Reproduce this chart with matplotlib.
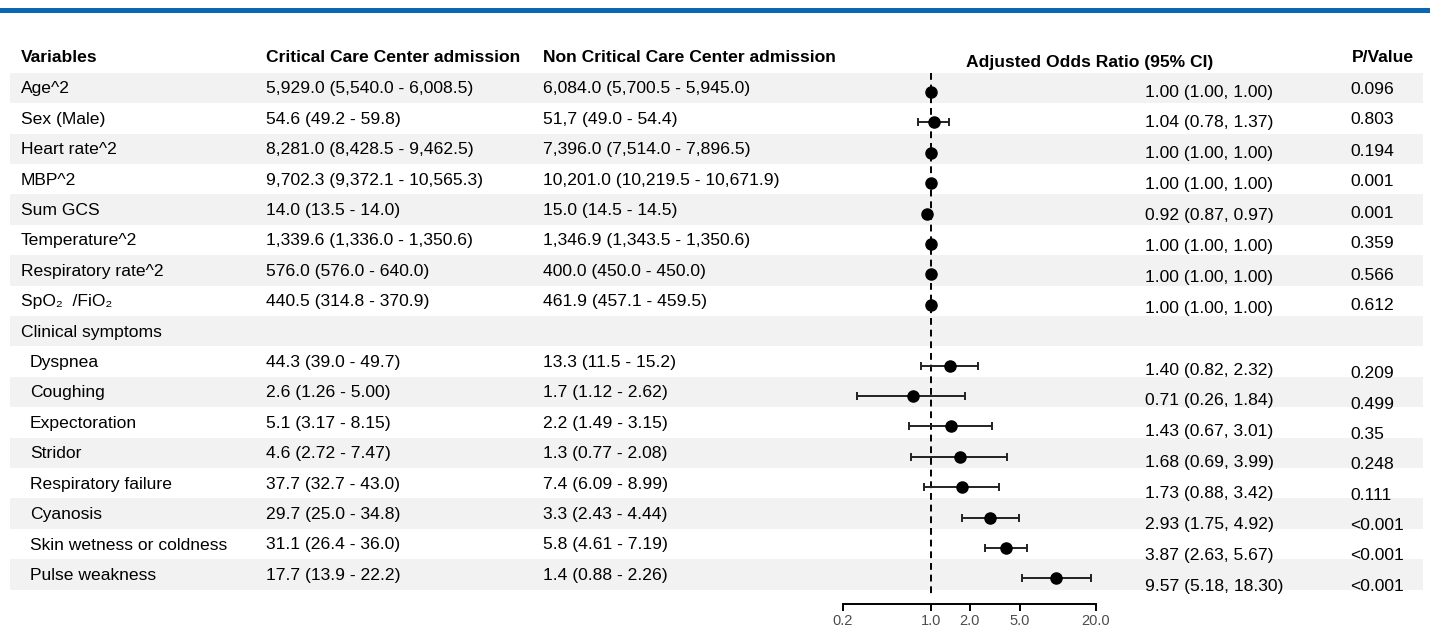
import numpy as np
import matplotlib.pyplot as plt

plt.rcParams['font.family'] = ['Liberation Sans', 'DejaVu Sans']

variables = ["Age^2", "Sex (Male)", "Heart rate^2", "MBP^2", "Sum GCS", "Temperature^2",
             "Respiratory rate^2", "SpO\u2082  /FiO\u2082", "Clinical symptoms", "Dyspnea",
             "Coughing", "Expectoration", "Stridor", "Respiratory failure", "Cyanosis",
             "Skin wetness or coldness", "Pulse weakness"]
is_sub = [False] * 9 + [True] * 8

critical = ["5,929.0 (5,540.0 - 6,008.5)", "54.6 (49.2 - 59.8)", "8,281.0 (8,428.5 - 9,462.5)",
            "9,702.3 (9,372.1 - 10,565.3)", "14.0 (13.5 - 14.0)", "1,339.6 (1,336.0 - 1,350.6)",
            "576.0 (576.0 - 640.0)", "440.5 (314.8 - 370.9)", "",
            "44.3 (39.0 - 49.7)", "2.6 (1.26 - 5.00)", "5.1 (3.17 - 8.15)", "4.6 (2.72 - 7.47)",
            "37.7 (32.7 - 43.0)", "29.7 (25.0 - 34.8)", "31.1 (26.4 - 36.0)", "17.7 (13.9 - 22.2)"]

non_critical = ["6,084.0 (5,700.5 - 5,945.0)", "51,7 (49.0 - 54.4)", "7,396.0 (7,514.0 - 7,896.5)",
                "10,201.0 (10,219.5 - 10,671.9)", "15.0 (14.5 - 14.5)", "1,346.9 (1,343.5 - 1,350.6)",
                "400.0 (450.0 - 450.0)", "461.9 (457.1 - 459.5)", "",
                "13.3 (11.5 - 15.2)", "1.7 (1.12 - 2.62)", "2.2 (1.49 - 3.15)", "1.3 (0.77 - 2.08)",
                "7.4 (6.09 - 8.99)", "3.3 (2.43 - 4.44)", "5.8 (4.61 - 7.19)", "1.4 (0.88 - 2.26)"]

aor = [1.00, 1.04, 1.00, 1.00, 0.92, 1.00, 1.00, 1.00, np.nan,
       1.40, 0.71, 1.43, 1.68, 1.73, 2.93, 3.87, 9.57]
ci_low = [1.00, 0.78, 1.00, 1.00, 0.87, 1.00, 1.00, 1.00, np.nan,
          0.82, 0.26, 0.67, 0.69, 0.88, 1.75, 2.63, 5.18]
ci_high = [1.00, 1.37, 1.00, 1.00, 0.97, 1.00, 1.00, 1.00, np.nan,
           2.32, 1.84, 3.01, 3.99, 3.42, 4.92, 5.67, 18.30]

p_values = ["0.096", "0.803", "0.194", "0.001", "0.001", "0.359", "0.566", "0.612", "",
            "0.209", "0.499", "0.35", "0.248", "0.111", "<0.001", "<0.001", "<0.001"]

xticks = [0.2, 1.0, 2.0, 5.0, 20.0]

W, H = 1430, 628
FS = 12.6
row0, pitch = 88, 30.4
n = len(variables)
rows_y = row0 + pitch * np.arange(n)

fig = plt.figure(figsize=(W / 100, H / 100), dpi=100)
ax = fig.add_axes([0, 0, 1, 1])
ax.set_xlim(0, W)
ax.set_ylim(H, 0)
ax.axis('off')

# top blue rule
ax.axhspan(8, 13, color='#0b67b2', lw=0)

# zebra rows
for i, y in enumerate(rows_y):
    if i % 2 == 0:
        ax.axhspan(y - pitch / 2, y + pitch / 2, xmin=10 / W, xmax=1423 / W,
                   color='#f2f2f2', lw=0)

# headers
hy = 57
ax.text(21, hy, "Variables", fontsize=FS, fontweight='bold', va='center')
ax.text(266, hy, "Critical Care Center admission", fontsize=FS, fontweight='bold', va='center')
ax.text(543, hy, "Non Critical Care Center admission", fontsize=FS, fontweight='bold', va='center')
ax.text(1090, hy + 5, "Adjusted Odds Ratio (95% CI)", fontsize=FS, fontweight='bold',
        va='center', ha='center')
ax.text(1352, hy, "P/Value", fontsize=FS, fontweight='bold', va='center')

# table body
dy = 1
for i, y in enumerate(rows_y):
    ax.text(30 if is_sub[i] else 21, y + dy, variables[i], fontsize=FS, va='center')
    ax.text(266, y + dy, critical[i], fontsize=FS, va='center')
    ax.text(543, y + dy, non_critical[i], fontsize=FS, va='center')
    if not np.isnan(aor[i]):
        ax.text(1145, 91 + 30.9 * i + dy, f"{aor[i]:.2f} ({ci_low[i]:.2f}, {ci_high[i]:.2f})",
                fontsize=FS, va='center')
    if p_values[i]:
        py = 88 + 31 * i if i < 9 else 373 + 30.3 * (i - 9)
        ax.text(1350, py + dy, p_values[i], fontsize=FS, va='center')

# forest plot panel
fx0, fx1 = 843, 1096
shift = 4
axf = fig.add_axes([fx0 / W, -shift / H, (fx1 - fx0) / W, 1])
axf.patch.set_visible(False)
axf.set_xscale('log')
axf.set_xlim(0.2, 20)
axf.set_ylim(H, 0)

axf.plot([1, 1], [row0 - pitch / 2 - shift, 598 - shift], color='black', lw=1.4,
         linestyle=(0, (3.5, 2.5)))

aor_a = np.array(aor)
lo_a = np.array(ci_low)
hi_a = np.array(ci_high)
ok = ~np.isnan(aor_a)
axf.errorbar(aor_a[ok], rows_y[ok], xerr=[aor_a[ok] - lo_a[ok], hi_a[ok] - aor_a[ok]],
             fmt='none', ecolor='#222222', elinewidth=1.4, capsize=3.2, capthick=1.4)
axf.plot(aor_a[ok], rows_y[ok], 'o', color='black', ms=8, zorder=3)

for s in ['top', 'left', 'right']:
    axf.spines[s].set_visible(False)
axf.spines['bottom'].set_position(('data', 604 - shift))
axf.spines['bottom'].set_linewidth(1.4)
axf.set_yticks([])
axf.set_xticks(xticks)
axf.set_xticklabels([f"{t:.1f}" for t in xticks])
axf.xaxis.set_minor_locator(plt.NullLocator())
axf.tick_params(axis='x', length=5, width=1.4, pad=2.5, labelsize=10.5, labelcolor='#4d4d4d')

fig.savefig('out.png', dpi=100)
